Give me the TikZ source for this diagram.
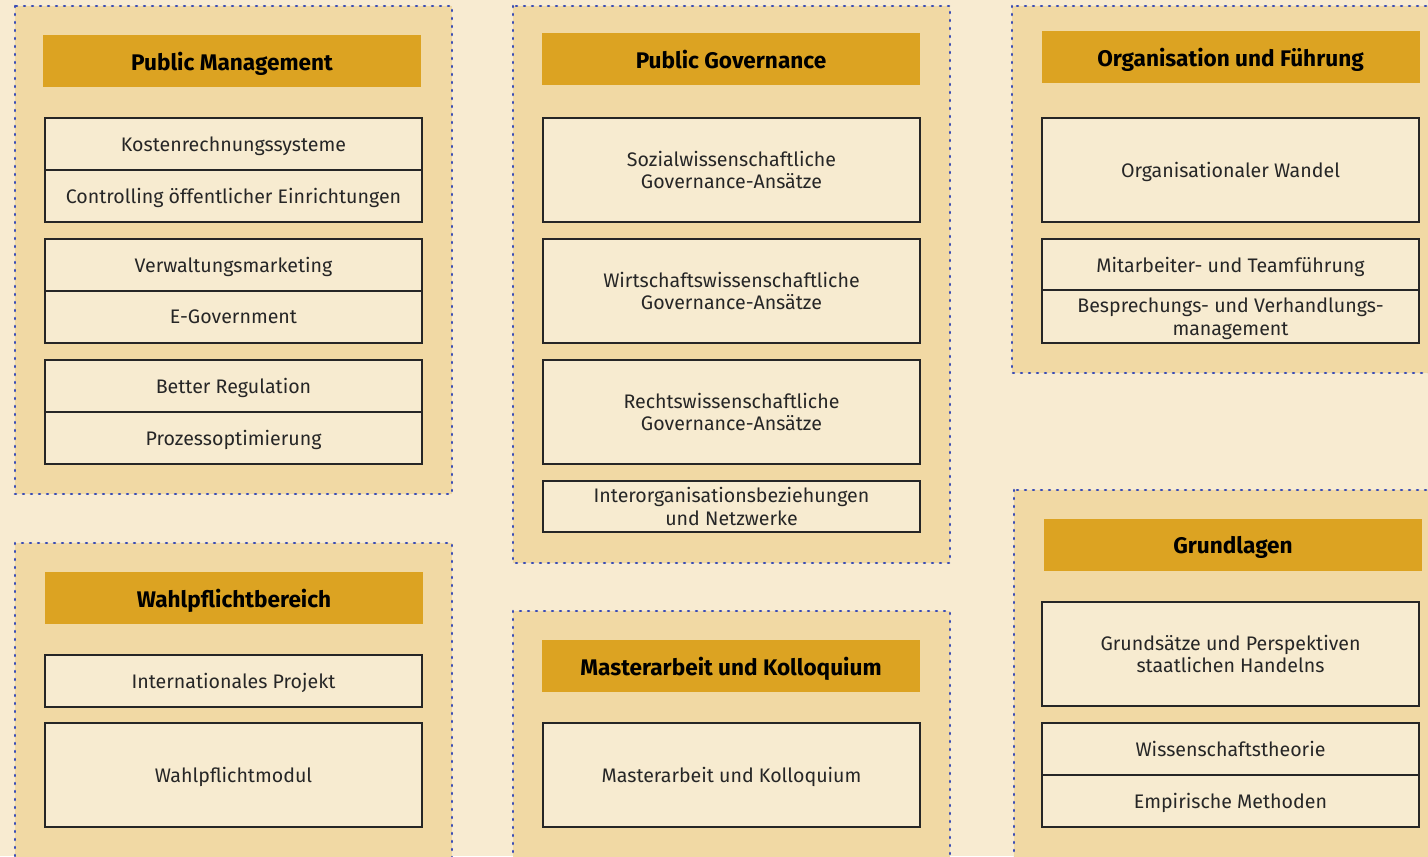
\documentclass[tikz,border=0pt]{standalone}
\usepackage{fontspec}
\setmainfont{Fira Sans}
\definecolor{bgc}{HTML}{F8EBD1}
\definecolor{panelc}{HTML}{F1D9A4}
\definecolor{headc}{HTML}{DCA322}
\definecolor{itemc}{HTML}{F7EBD0}
\definecolor{dotc}{HTML}{3A4CB5}
\tikzset{
  panel/.style={fill=panelc, draw=dotc, line width=1.3pt, dash pattern=on 0.5pt off 3.5pt, line cap=round},
  header/.style={fill=headc, draw=none, minimum width=189pt, minimum height=26pt, inner sep=0pt, text depth=0pt, font=\fontsize{11.3}{13}\selectfont\bfseries, text=black},
  item/.style={fill=itemc, draw=black!85, line width=0.7pt, minimum width=188.5pt, inner sep=0pt, text depth=0pt, align=center, font=\fontsize{9.8}{11.2}\selectfont, text=black!85},
  ih/.style={minimum height=26pt},
  ihh/.style={minimum height=52pt}
}
\begin{document}
\begin{tikzpicture}[x=0.5pt,y=-0.5pt]
\useasboundingbox (0,0) rectangle (1428,856);
\clip (0,0) rectangle (1428,856);
\fill[bgc] (0,0) rectangle (1428,856);
% panels
\draw[panel] (15,6) rectangle (452,494);
\draw[panel] (513,6) rectangle (950,563);
\draw[panel] (1012,6) rectangle (1440,373);
\draw[panel] (15,543) rectangle (452,870);
\draw[panel] (513,611) rectangle (950,870);
\draw[panel] (1014,490) rectangle (1440,870);
% Public Management
\node[header] (h1) at (232,61) {Public Management};
\node[item,ih] (a1) at (233.5,144) {Kostenrechnungssysteme};
\node[item,ih] (a2) at (233.5,196) {Controlling öffentlicher Einrichtungen};
\node[item,ih] (a3) at (233.5,265) {Verwaltungsmarketing};
\node[item,ih] (a4) at (233.5,317) {E-Government};
\node[item,ih] (a5) at (233.5,386) {Better Regulation};
\node[item,ih] (a6) at (233.5,438) {Prozessoptimierung};
% Public Governance
\node[header] (h2) at (731,59) {Public Governance};
\node[item,ihh] (b1) at (731.5,170) {Sozialwissenschaftliche\\Governance-Ansätze};
\node[item,ihh] (b2) at (731.5,291) {Wirtschaftswissenschaftliche\\Governance-Ansätze};
\node[item,ihh] (b3) at (731.5,412) {Rechtswissenschaftliche\\Governance-Ansätze};
\node[item,minimum height=25.5pt] (b4) at (731.5,506.5) {Interorganisationsbeziehungen\\und Netzwerke};
% Organisation und Führung
\node[header] (h3) at (1230.5,57) {Organisation und Führung};
\node[item,ihh] (c1) at (1230.5,170) {Organisationaler Wandel};
\node[item,minimum height=25.5pt] (c2) at (1230.5,264.5) {Mitarbeiter- und Teamführung};
\node[item,minimum height=26.5pt] (c3) at (1230.5,316.5) {Besprechungs- und Verhandlungs-\\management};
% Wahlpflichtbereich
\node[header] (h4) at (234,598) {Wahlpflichtbereich};
\node[item,ih] (d1) at (233.5,681) {Internationales Projekt};
\node[item,ihh] (d2) at (233.5,775) {Wahlpflichtmodul};
% Masterarbeit
\node[header] (h5) at (731,666) {Masterarbeit und Kolloquium};
\node[item,ihh] (e1) at (731.5,775) {Masterarbeit und Kolloquium};
% Grundlagen
\node[header] (h6) at (1233,545) {Grundlagen};
\node[item,ihh] (f1) at (1230.5,654) {Grundsätze und Perspektiven\\staatlichen Handelns};
\node[item,ih] (f2) at (1230.5,749) {Wissenschaftstheorie};
\node[item,ih] (f3) at (1230.5,801) {Empirische Methoden};
\end{tikzpicture}
\end{document}
